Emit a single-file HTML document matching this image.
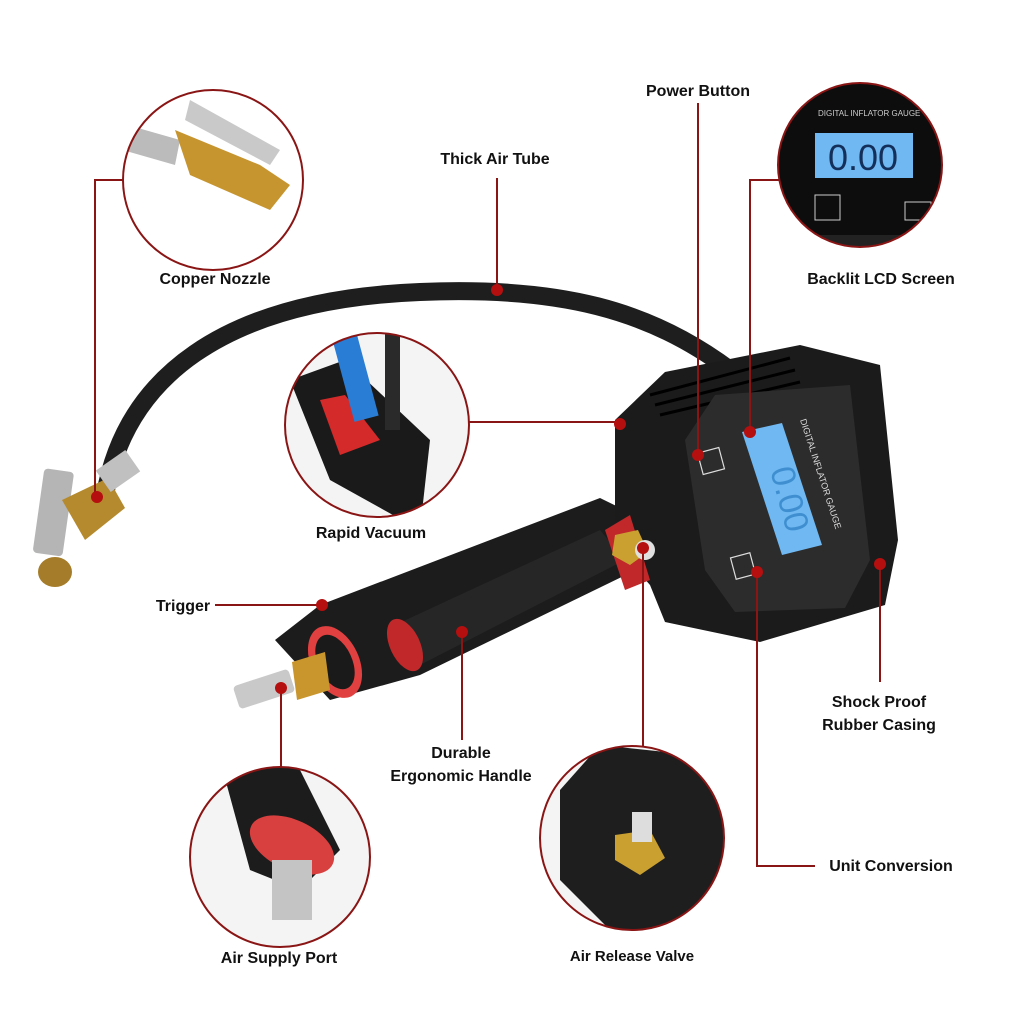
<!DOCTYPE html>
<html><head><style>
html,body{margin:0;padding:0;background:#fff}
svg{display:block}
text{font-family:"Liberation Sans",sans-serif;font-weight:bold;font-size:16px;fill:#111}
</style></head><body>
<svg width="1024" height="1024" viewBox="0 0 1024 1024">
<defs>
<clipPath id="c1"><circle cx="213" cy="180" r="90"/></clipPath>
<clipPath id="c2"><circle cx="860" cy="165" r="82"/></clipPath>
<clipPath id="c3"><circle cx="377" cy="425" r="92"/></clipPath>
<clipPath id="c4"><circle cx="280" cy="857" r="90"/></clipPath>
<clipPath id="c5"><circle cx="632" cy="838" r="92"/></clipPath>
</defs>
<!-- hose -->
<path d="M105,495 C125,380 220,300 420,292 C560,286 650,310 730,370" stroke="#1e1e1e" stroke-width="18" fill="none" stroke-linecap="round"/>
<!-- nozzle on left -->
<rect x="38" y="470" width="30" height="85" rx="4" fill="#b5b5b5" transform="rotate(8 54 515)"/>
<path d="M62,500 L108,478 L125,508 L85,540 Z" fill="#b58a2e"/>
<ellipse cx="55" cy="572" rx="17" ry="15" fill="#a57d2a"/>
<rect x="100" y="458" width="36" height="26" fill="#c0c0c0" transform="rotate(-35 118 471)"/>
<!-- handle -->
<path d="M275,640 L320,605 L600,498 L645,520 L640,568 L420,675 L330,700 Z" fill="#1c1c1c"/>
<path d="M395,625 L600,530 L625,560 L420,665 Z" fill="#262626"/>
<ellipse cx="405" cy="645" rx="15" ry="28" fill="#c0282a" transform="rotate(-25 405 645)"/>
<ellipse cx="335" cy="662" rx="24" ry="38" fill="#e04040" transform="rotate(-25 335 662)"/>
<ellipse cx="335" cy="662" rx="17" ry="29" fill="#1a1a1a" transform="rotate(-25 335 662)"/>
<path d="M292,662 L325,652 L330,690 L297,700 Z" fill="#c9962e"/>
<rect x="235" y="677" width="58" height="24" rx="4" fill="#c9c9c9" transform="rotate(-18 264 689)"/>
<!-- gauge body -->
<path d="M615,420 L665,372 L800,345 L880,365 L898,540 L885,605 L760,642 L665,622 L650,585 L615,545 Z" fill="#1b1b1b"/>
<path d="M650,395 L790,358 M655,405 L795,370 M660,415 L800,382" stroke="#000" stroke-width="3"/>
<path d="M685,440 L715,395 L850,385 L870,560 L845,608 L735,612 L705,570 Z" fill="#2c2c2c"/>
<path d="M742,432 L782,423 L822,545 L782,555 Z" fill="#6fb8f2"/>
<text x="770" y="470" transform="rotate(75 770 470)" style="font-size:34px;fill:#3f8fd0;font-weight:normal">0.00</text>
<text x="800" y="420" transform="rotate(72 800 420)" style="font-size:9px;fill:#ddd;font-weight:normal">DIGITAL INFLATOR GAUGE</text>
<rect x="700" y="450" width="22" height="22" fill="none" stroke="#ddd" stroke-width="1.2" transform="rotate(-15 711 461)"/>
<rect x="733" y="555" width="20" height="22" fill="none" stroke="#ddd" stroke-width="1.2" transform="rotate(-15 743 566)"/>
<!-- air release valve -->
<path d="M605,530 L630,515 L650,580 L625,590 Z" fill="#c0282a"/>
<polygon points="615,535 638,530 648,552 630,565 612,555" fill="#caa030"/>
<circle cx="645" cy="550" r="10" fill="#e0e0e0"/>
<!-- circles -->
<circle cx="213" cy="180" r="90" fill="#fff"/>
<circle cx="860" cy="165" r="82" fill="#0d0d0d"/>
<circle cx="377" cy="425" r="92" fill="#f4f4f4"/>
<circle cx="280" cy="857" r="90" fill="#f4f4f4"/>
<circle cx="632" cy="838" r="92" fill="#f4f4f4"/>
<g clip-path="url(#c1)">
<path d="M110,120 L180,140 L175,165 L105,145 Z" fill="#bbb"/>
<path d="M175,130 L260,165 L290,185 L270,210 L190,175 Z" fill="#c7952f"/>
<path d="M190,100 L280,150 L270,165 L185,120 Z" fill="#c9c9c9"/>
</g>
<g clip-path="url(#c2)">
<text x="818" y="116" style="font-size:8px;fill:#ccc;font-weight:normal">DIGITAL INFLATOR GAUGE</text>
<rect x="815" y="133" width="98" height="45" fill="#6fb8f2"/>
<text x="828" y="170" style="font-size:36px;fill:#14305a;font-weight:normal">0.00</text>
<rect x="815" y="195" width="25" height="25" fill="none" stroke="#ccc"/>
<rect x="905" y="202" width="26" height="18" fill="none" stroke="#ccc"/>
<rect x="780" y="235" width="160" height="20" fill="#222"/>
</g>
<g clip-path="url(#c3)">
<path d="M290,380 L345,360 L430,440 L420,530 L330,480 Z" fill="#1a1a1a"/>
<path d="M320,400 L345,395 L380,440 L340,455 Z" fill="#d42a2a"/>
<rect x="345" y="330" width="25" height="90" fill="#2a7dd4" transform="rotate(-15 357 385)"/>
<rect x="385" y="320" width="15" height="110" fill="#2a2a2a"/>
</g>
<g clip-path="url(#c4)">
<path d="M220,760 L290,750 L340,850 L300,890 L250,870 Z" fill="#1c1c1c"/>
<ellipse cx="292" cy="845" rx="45" ry="25" fill="#d84040" transform="rotate(25 292 845)"/>
<rect x="272" y="860" width="40" height="60" fill="#c4c4c4"/>
</g>
<g clip-path="url(#c5)">
<path d="M560,790 L600,745 L740,760 L740,930 L620,940 L560,880 Z" fill="#1e1e1e"/>
<polygon points="615,835 650,830 665,858 640,875 615,860" fill="#caa030"/>
<rect x="632" y="812" width="20" height="30" fill="#ddd"/>
</g>
<g stroke="#8a1515" stroke-width="2" fill="none">
<circle cx="213" cy="180" r="90"/>
<circle cx="860" cy="165" r="82"/>
<circle cx="377" cy="425" r="92"/>
<circle cx="280" cy="857" r="90"/>
<circle cx="632" cy="838" r="92"/>
</g>
<!-- connector lines -->
<g stroke="#8a1515" stroke-width="2" fill="none">
<path d="M123,180 H95 V497"/>
<path d="M497,178 V290"/>
<path d="M698,103 V455"/>
<path d="M779,180 H750 V432"/>
<path d="M469,422 H620"/>
<path d="M215,605 H322"/>
<path d="M462,632 V740"/>
<path d="M880,564 V682"/>
<path d="M757,572 V866 H815"/>
<path d="M281,688 V767"/>
<path d="M643,548 V746"/>
</g>
<g fill="#b50f0f">
<circle cx="97" cy="497" r="6"/><circle cx="497" cy="290" r="6"/><circle cx="698" cy="455" r="6"/>
<circle cx="750" cy="432" r="6"/><circle cx="620" cy="424" r="6"/><circle cx="322" cy="605" r="6"/>
<circle cx="462" cy="632" r="6"/><circle cx="880" cy="564" r="6"/><circle cx="757" cy="572" r="6"/>
<circle cx="281" cy="688" r="6"/><circle cx="643" cy="548" r="6"/>
</g>
<!-- labels -->
<g text-anchor="middle">
<text x="698" y="96">Power Button</text>
<text x="495" y="164">Thick Air Tube</text>
<text x="215" y="284">Copper Nozzle</text>
<text x="881" y="284">Backlit LCD Screen</text>
<text x="371" y="538">Rapid Vacuum</text>
<text x="183" y="611">Trigger</text>
<text x="879" y="707">Shock Proof</text>
<text x="879" y="730">Rubber Casing</text>
<text x="461" y="758">Durable</text>
<text x="461" y="781">Ergonomic Handle</text>
<text x="891" y="871">Unit Conversion</text>
<text x="279" y="963">Air Supply Port</text>
<text x="632" y="961" style="font-size:15px">Air Release Valve</text>
</g>
</svg>
</body></html>
